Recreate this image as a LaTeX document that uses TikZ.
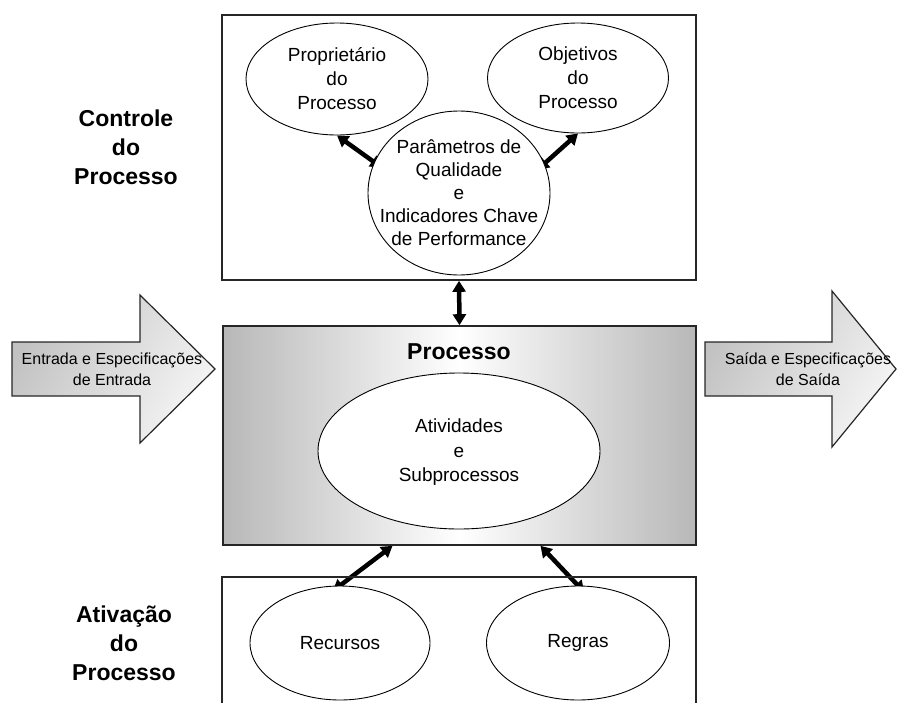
\documentclass[tikz,border=0pt]{standalone}
\usepackage{fontspec}
\setmainfont{Liberation Sans}
\usetikzlibrary{shapes.geometric,arrows.meta,calc}
\pgfdeclarelayer{bg}
\pgfsetlayers{bg,main}
\begin{document}
\begin{tikzpicture}[x=1pt,y=1pt,
  box/.style={draw=black!85, line width=1.6pt, rectangle, inner sep=0},
  ell/.style={draw=black, line width=0.9pt, ellipse, fill=white, inner sep=0},
  etext/.style={align=center, font=\fontsize{19}{24}\selectfont, inner sep=0},
  ptext/.style={align=center, font=\fontsize{19}{23}\selectfont, inner sep=0},
  atext/.style={align=center, font=\fontsize{16}{21}\selectfont, inner sep=0},
  btext/.style={align=center, font=\fontsize{23}{29}\bfseries\selectfont, inner sep=0},
  conn/.style={line width=4.5pt, {Triangle[length=11pt,width=13pt]}-{Triangle[length=11pt,width=13pt]}},
  bigarrow/.style={draw=black!85, line width=1.2pt, left color=black!24, right color=black!4, shading angle=60}
]
\useasboundingbox (0,0) rectangle (897,-702);

% boxes
\node[box, minimum width=474pt, minimum height=265pt] (ctrl) at (459,-147.5) {};
\node[box, minimum width=473pt, minimum height=219pt,
      left color=black!28, right color=black!28, middle color=white] (proc) at (459.5,-435.5) {};
\draw[draw=black!85, line width=1.6pt] (222,-705) |- (696,-577) -- (696,-705);

% big arrows
\path[bigarrow] (12,-342) -- (140,-342) -- (140,-295) -- (215,-369) -- (140,-443) -- (140,-396) -- (12,-396) -- cycle;
\path[bigarrow] (705,-342) -- (832,-342) -- (832,-291) -- (896,-369) -- (832,-447) -- (832,-396) -- (705,-396) -- cycle;
\node[atext] (inT) at (112,-369) {Entrada e Especificações\\de Entrada};
\node[atext] (outT) at (808,-369) {Saída e Especificações\\de Saída};

% ellipses
\node[ell, minimum width=182pt, minimum height=112pt] (prop) at (337,-79) {};
\node[ell, minimum width=181pt, minimum height=110pt] (obj) at (578,-78) {};
\node[ell, minimum width=182pt, minimum height=164pt] (param) at (459,-193) {};
\node[ell, minimum width=282pt, minimum height=156pt] (ativ) at (459,-451) {};
\node[ell, minimum width=180pt, minimum height=114pt] (rec) at (340,-643) {};
\node[ell, minimum width=183pt, minimum height=114pt] (reg) at (578,-643) {};

\node[etext] (propT) at (prop) {Proprietário\\do\\Processo};
\node[etext] (objT) at (obj) {Objetivos\\do\\Processo};
\node[ptext] (paramT) at (param) {Parâmetros de\\Qualidade\\e\\Indicadores Chave\\de Performance};
\node[etext, font=\fontsize{19}{24.5}\selectfont] (ativT) at (459,-452.5) {Atividades\\e\\Subprocessos};
\node[etext] (recT) at (rec) {Recursos};
\node[etext] (regT) at (reg) {Regras};

% labels
\node[btext] (procT) at (459,-352) {Processo};
\node[btext] (ctrlL) at (126,-147) {Controle\\do\\Processo};
\node[btext] (ativL) at (124,-643) {Ativação\\do\\Processo};

% connectors
\begin{pgfonlayer}{bg}
\draw[conn, shorten <=-9pt] (param.160) -- (prop.south);
\draw[conn, shorten <=-9pt] (param.19) -- (obj.south);
\draw[conn] (ctrl.south) -- (proc.north);
\draw[conn, shorten <=-9pt] (rec.north) -- ($(proc.south)+(-67,0)$);
\draw[conn, shorten <=-9pt] (reg.north) -- ($(proc.south)+(81,0)$);
\end{pgfonlayer}
\end{tikzpicture}
\end{document}
